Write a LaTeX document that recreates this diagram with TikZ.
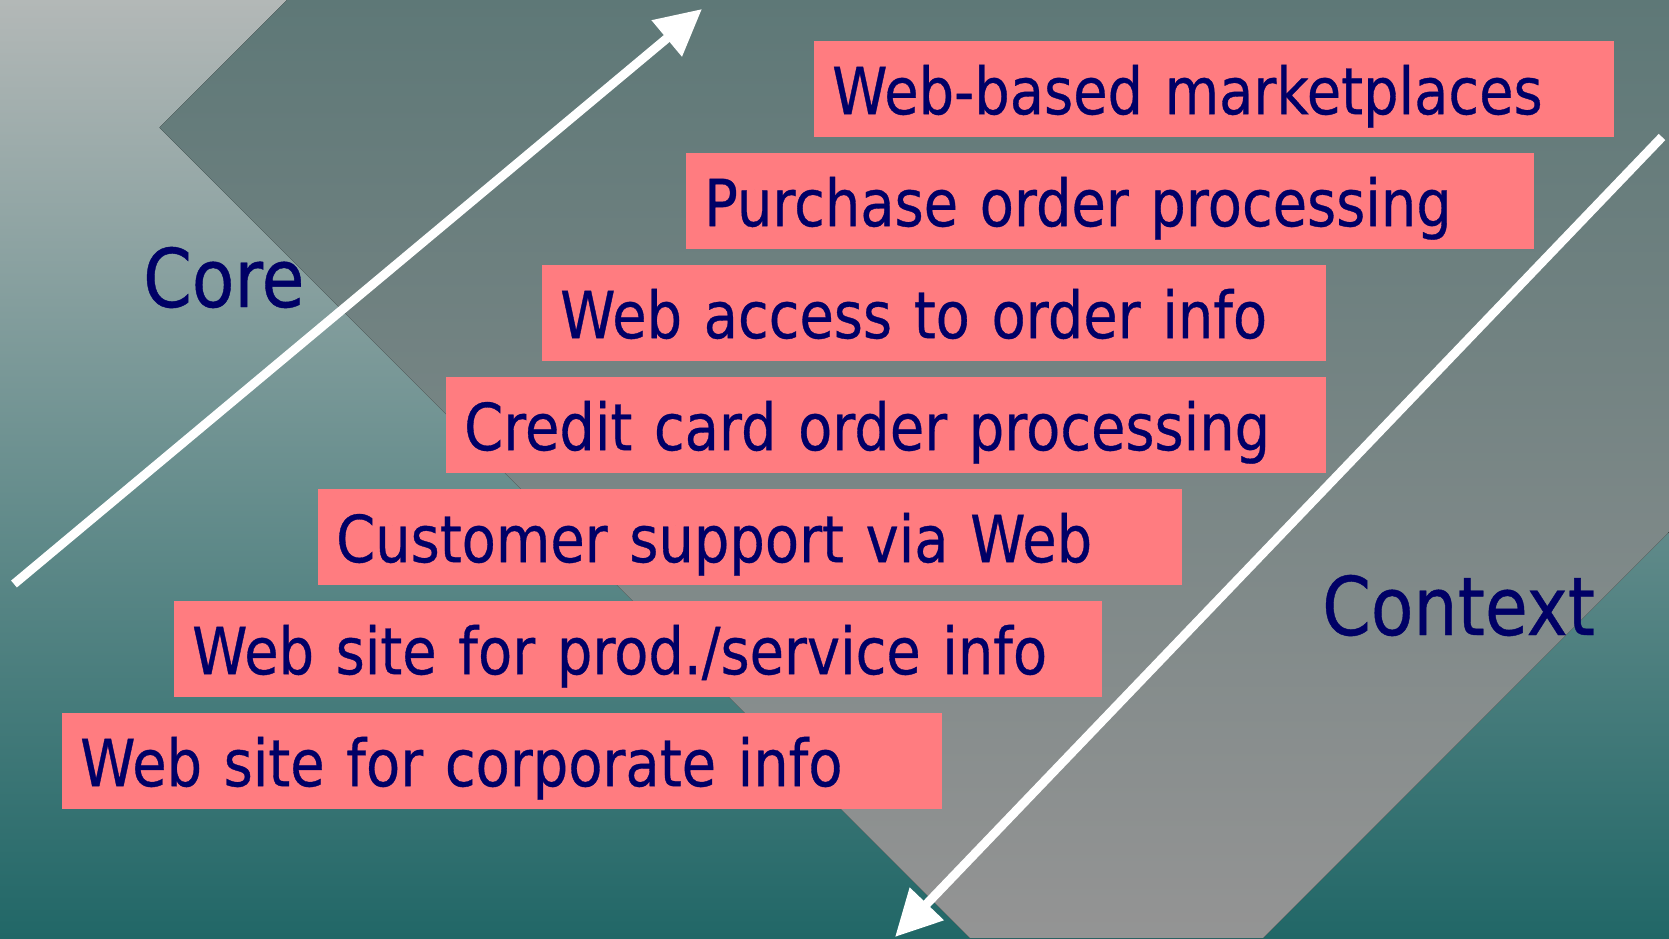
\documentclass[tikz,border=0pt]{standalone}
\usepackage{fontspec}
\setmainfont{DejaVu Sans}[FakeStretch=0.86, FakeBold=0.5]
\usetikzlibrary{arrows.meta}
\definecolor{ecnavy}{HTML}{000066}
\definecolor{ecpink}{HTML}{FF7C80}
\definecolor{ecpale}{HTML}{B3B8B7}
\definecolor{ecmist}{HTML}{7A8F8D}
\definecolor{ecteal}{HTML}{216767}
\definecolor{ecslate}{HTML}{5E7877}
\definecolor{ecsmoke}{HTML}{818988}
\definecolor{ecgrey}{HTML}{949494}
\tikzset{
  ec item/.style={fill=ecpink, anchor=north west, inner xsep=18pt, inner ysep=0pt,
    text height=73pt, text depth=23pt, align=left, text=ecnavy,
    font=\fontsize{65}{78}\selectfont},
  ec label/.style={anchor=base west, inner sep=0pt, text=ecnavy,
    font=\fontsize{81}{97}\selectfont},
  ec arrow/.style={draw=white, line width=9pt, line cap=butt,
    -{Triangle[length=46pt,width=45pt]}}
}

\begin{document}
\begin{tikzpicture}[x=1pt, y=-1pt]
  \clip (0,0) rectangle (1669,938);
  \fill[top color=ecpale, middle color=ecmist, bottom color=ecteal] (0,0) rectangle (1669,938);
  \fill[top color=ecslate, middle color=ecsmoke, bottom color=ecgrey]
    (287,0) -- (159.5,127.5) -- (970,938) -- (1263,938) -- (1669,532) -- (1669,0) -- cycle;
  \coordinate (core tail) at (14,584);
  \coordinate (core head) at (702,9);
  \coordinate (context tail) at (1662,137);
  \coordinate (context head) at (895,937);
  \draw[ec arrow] (core tail) -- (core head);
  \draw[ec arrow] (context tail) -- (context head);
  \foreach \n/\l/\t/\r/\txt in {market/814/41/1614/{Web-based marketplaces},
      purchase/686/153/1534/{Purchase order processing},
      access/542/265/1326/{Web access to order info},
      credit/446/377/1326/{Credit card order processing},
      support/318/489/1182/{Customer support via Web},
      product/174/601/1102/{Web site for prod./service info},
      corporate/62/713/942/{Web site for corporate info}} {
    \pgfmathsetmacro\tw{\r-\l-36}
    \node[ec item, text width=\tw pt] (\n) at (\l,\t) {\txt};
  }
  \node[ec label] (core) at (143,307) {Core};
  \node[ec label] (context) at (1322,635) {Context};
\end{tikzpicture}
\end{document}
